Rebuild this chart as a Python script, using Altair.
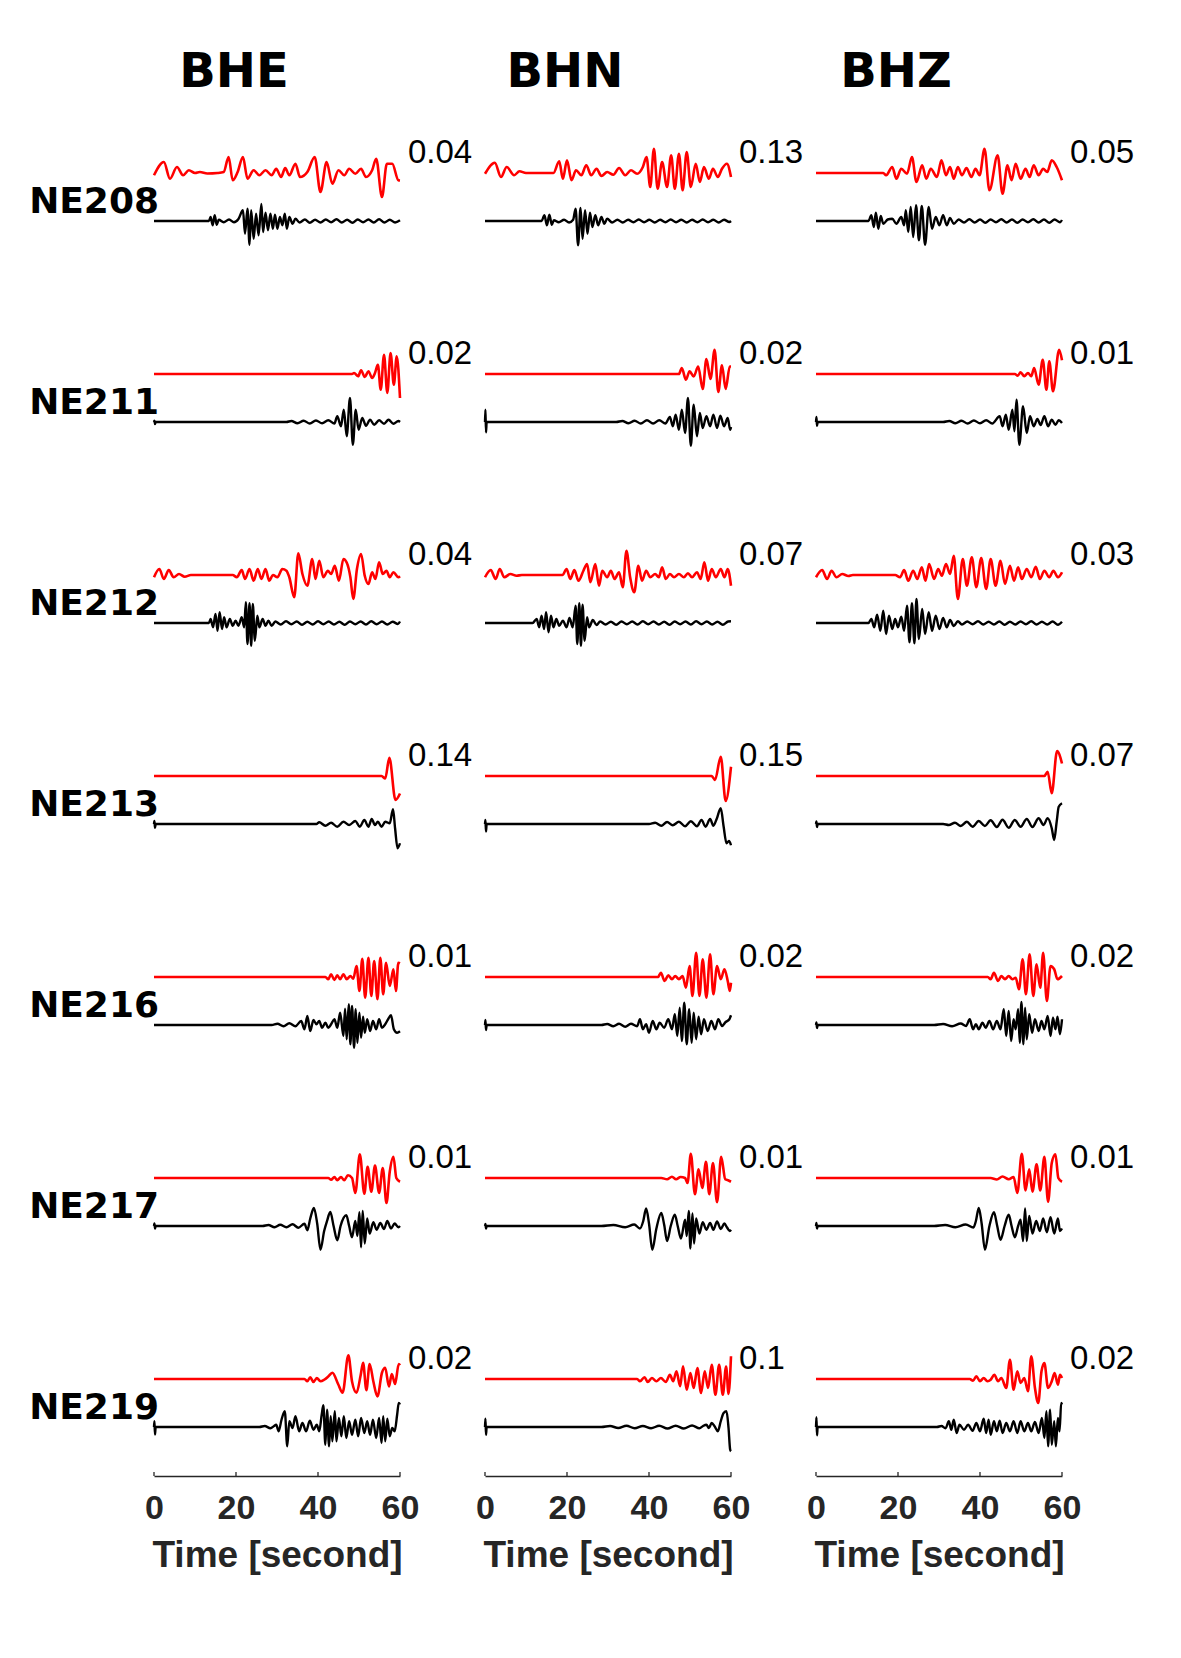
import altair as alt
import pandas as pd

# ---------------- data ----------------
STATIONS = ["NE208", "NE211", "NE212", "NE213", "NE216", "NE217", "NE219"]
COMPONENTS = ["BHE", "BHN", "BHZ"]
NUMBERS_BHE = [0.04, 0.02, 0.04, 0.14, 0.01, 0.01, 0.02]
NUMBERS_BHN = [0.13, 0.02, 0.07, 0.15, 0.02, 0.01, 0.1]
NUMBERS_BHZ = [0.05, 0.01, 0.03, 0.07, 0.02, 0.01, 0.02]
X_TICKS = [0, 20, 40, 60]

# (time [s], normalised amplitude) pairs; red = upper trace, black = lower trace
NE208_BHE_RED = [(0,-.09),(2.4,.44),(3.9,-.23),(5.6,.24),(7.1,-.09),(8.5,.11),(10,0),(11.2,.04),(13,-.02),(15.5,0),(17.0,.04),(18.2,.64),(19.2,-.29),(20.4,.04),(21.7,.64),(22.8,-.23),(24.3,.11),(25.7,-.09),(27.2,.11),(28.7,-.09),(29.8,.17),(31.0,-.16),(32.0,.2),(33.0,-.09),(34.5,.37),(35.6,-.16),(37.4,.04),(39.2,.64),(40.6,-.76),(42.1,.44),(43.5,-.43),(45.0,.11),(46.4,-.09),(47.6,.17),(49.1,-.03),(50.5,.17),(51.7,-.16),(53.2,.11),(54.2,.57),(55.6,-.96),(56.8,.37),(58.1,.37),(59.6,-.29),(60,-.3)]
NE208_BHE_BLACK = [(0,0),(13.4,0),(13.8,.16),(14.3,-.17),(14.8,.23),(15.3,-.15),(15.8,.05),(17,-.05),(18.3,.06),(19.5,-.05),(20.6,.08),(21.7,.43),(22.2,-.51),(22.8,.49),(23.3,-.95),(23.7,.43),(24.3,-.71),(24.9,.29),(25.5,-.57),(26.2,.68),(26.6,-.44),(27.2,.33),(27.8,-.37),(28.4,.29),(29.0,-.31),(29.5,.25),(30.1,-.31),(30.7,.16),(31.3,-.17),(31.9,.29),(32.4,-.31),(33.0,.16),(33.8,-.11),(34.5,.09),(35.5,-.06),(36.8,.06),(38.0,-.07),(39.3,.05),(40.6,-.06),(41.9,.06),(43.2,-.05),(44.5,.07),(45.8,-.06),(47.1,.05),(48.4,-.07),(49.7,.06),(51.0,-.05),(52.3,.06),(53.6,-.06),(54.9,.07),(56.2,-.06),(57.5,.05),(58.8,-.06),(60,.03)]
NE208_BHN_RED = [(0,-.03),(2.4,.41),(3.9,-.16),(5.3,.24),(7.1,-.09),(8.4,.07),(10,0),(16.7,0),(18.1,.47),(19.0,-.23),(20.0,.51),(21.1,-.29),(22.2,.11),(23.5,-.09),(24.7,.31),(25.9,-.09),(27.2,.17),(28.4,-.12),(29.8,.04),(31.3,-.07),(32.7,.2),(34.2,-.09),(35.6,.11),(37.1,-.03),(38.5,.24),(39.4,.64),(40.3,-.56),(41.2,.97),(42.1,-.63),(43.2,.44),(44.4,-.56),(45.4,.71),(46.3,-.63),(47.3,.77),(48.2,-.69),(49.2,.84),(50.2,-.56),(51.4,.37),(52.4,-.36),(53.4,.24),(54.6,-.23),(55.6,.17),(56.8,-.16),(57.8,.17),(59.0,.37),(60,-.16)]
NE208_BHN_BLACK = [(0,0),(13.8,0),(14.5,.23),(15.1,-.17),(15.7,.25),(16.3,-.15),(16.8,.03),(18,-.05),(19.3,.05),(20.5,-.06),(21.5,.05),(22.1,.49),(22.7,-.97),(23.3,.52),(23.8,-.71),(24.4,.43),(25.0,-.51),(25.6,.33),(26.2,-.24),(26.9,.23),(27.6,-.17),(28.4,.16),(29.1,-.11),(29.8,.09),(31.0,-.06),(32.3,.05),(33.6,-.06),(34.9,.05),(36.2,-.05),(37.5,.06),(38.8,-.05),(40.1,.05),(41.4,-.06),(42.7,.05),(44.0,-.05),(45.3,.06),(46.6,-.05),(47.9,.05),(49.2,-.06),(50.5,.05),(51.8,-.05),(53.1,.06),(54.4,-.05),(55.7,.05),(57.0,-.06),(58.3,.05),(59.6,-.04),(60,0)]
NE208_BHZ_RED = [(0,0),(16.4,0),(17.1,-.09),(18.6,.24),(19.6,-.23),(20.8,.17),(22.2,-.03),(23.4,.64),(24.5,-.36),(25.9,.31),(26.9,-.23),(28.0,.17),(29.5,-.16),(30.6,.51),(31.7,-.09),(32.7,.24),(33.6,-.23),(34.6,.24),(35.6,-.09),(36.7,.2),(37.9,-.16),(38.9,.17),(39.9,-.09),(41.1,.97),(42.3,-.69),(44.3,.71),(45.5,-.83),(46.7,.31),(47.7,-.29),(48.7,.37),(49.9,-.23),(51.1,.17),(52.1,-.16),(53.1,.31),(54.3,-.09),(55.4,.17),(56.4,.04),(57.5,.51),(58.7,.24),(60,-.29)]
NE208_BHZ_BLACK = [(0,0),(12.8,0),(13.5,.23),(14.1,-.24),(14.6,.33),(15.2,-.31),(15.8,.2),(16.4,-.11),(17.5,.06),(18.6,.09),(19.6,-.11),(20.8,.16),(21.5,-.17),(21.9,.43),(22.5,-.44),(23.1,.56),(23.7,-.64),(24.4,.63),(25.1,-.77),(25.8,.6),(26.6,-.95),(27.5,.56),(28.3,-.31),(29.2,.16),(30.1,-.17),(31.0,.23),(31.9,-.17),(32.7,.12),(33.6,-.11),(34.8,.06),(36.1,-.06),(37.4,.07),(38.7,-.06),(40.0,.06),(41.3,-.07),(42.6,.06),(43.9,-.05),(45.2,.07),(46.5,-.06),(47.8,.06),(49.1,-.07),(50.4,.06),(51.7,-.05),(53.0,.07),(54.3,-.06),(55.6,.06),(56.9,-.07),(58.2,.06),(59.5,-.05),(60,.04)]

NE211_BHE_RED = [(0,0),(48.3,0),(48.8,.04),(49.8,-.09),(50.5,.15),(51.4,-.12),(52.3,.11),(53.2,-.16),(53.9,.04),(54.6,.37),(55.3,-.63),(56.1,.77),(56.9,-.76),(57.7,.84),(58.5,-.43),(59.2,.71),(60,-.96)]
NE211_BHE_BLACK = [(0,0),(0.1,.05),(0.25,-.08),(0.4,0),(32.3,0),(33.5,.04),(35,-.05),(36.5,.05),(38,-.06),(39.5,.06),(41,-.05),(42.5,.07),(44,-.06),(44.7,.23),(45.6,-.17),(46.3,.49),(47.0,-.57),(47.8,.96),(48.5,-.91),(49.2,.49),(49.9,-.31),(50.8,.16),(51.7,-.15),(52.7,.09),(53.7,-.11),(54.9,.07),(56.1,-.07),(57.2,.09),(58.4,-.07),(59.6,.04),(60,0)]
NE211_BHN_RED = [(0,0),(46.6,0),(47.3,0),(48.0,.24),(49.0,-.23),(49.9,.11),(50.9,-.1),(52.0,.3),(53.1,-.6),(54.0,.6),(55.0,-.2),(56.0,.97),(56.9,-.72),(57.8,.35),(58.7,-.6),(59.7,.3),(60,.3)]
NE211_BHN_BLACK = [(0,0),(0.1,.49),(0.25,-.41),(0.4,0),(32,0),(33.5,.04),(35,-.05),(36.5,.05),(38,-.06),(39.5,.07),(41,-.06),(42.5,.07),(44,-.06),(45.1,.2),(45.8,-.17),(46.5,.29),(47.3,-.31),(48.0,.49),(48.8,-.44),(49.5,.96),(50.2,-.95),(50.9,.69),(51.7,-.57),(52.4,.36),(53.1,-.24),(54.0,.23),(54.9,-.17),(55.7,.29),(56.6,-.24),(57.4,.25),(58.3,-.17),(59.2,.16),(59.8,-.31),(60,-.2)]
NE211_BHZ_RED = [(0,0),(48.5,0),(49.2,-.07),(49.9,.07),(50.8,-.09),(51.7,.04),(52.5,-.09),(53.2,.24),(54.3,-.43),(55.3,.57),(56.2,-.63),(56.9,.51),(57.8,-.69),(59.3,.97),(60,.55)]
NE211_BHZ_BLACK = [(0,0),(0.1,.2),(0.25,-.15),(0.4,0),(31,0),(32.5,.04),(34,-.05),(35.5,.05),(37,-.06),(38.5,.06),(40,-.05),(41.5,.07),(43,-.06),(44.8,.23),(45.5,-.17),(46.3,.29),(47.0,-.31),(47.9,.49),(48.4,-.37),(48.9,.89),(49.6,-.91),(50.5,.63),(51.4,-.44),(52.2,.23),(53.1,-.17),(54.0,.12),(54.8,-.12),(55.7,.23),(56.6,-.17),(57.5,.09),(58.4,-.11),(59.2,.07),(60,-.04)]

NE212_BHE_RED = [(0,-.09),(1.3,.24),(2.4,-.16),(3.6,.2),(4.8,-.09),(6.1,.04),(7.5,-.07),(9.0,0),(19.2,0),(20.2,-.09),(21.4,.2),(22.2,-.16),(23.3,.24),(24.3,-.23),(25.3,.24),(26.2,-.16),(27.2,.24),(28.1,-.23),(29.0,0),(30.1,-.09),(31.3,.24),(32.3,.17),(33.0,-.09),(34.2,-.89),(35.2,.87),(36.2,.04),(37.4,-.43),(38.6,.64),(39.4,-.16),(40.3,.57),(41.3,-.09),(42.4,.17),(43.2,.04),(44.1,.37),(45.1,-.23),(46.2,.64),(47.0,.5),(47.9,-.09),(48.6,-.96),(49.5,.24),(50.5,.84),(51.4,-.03),(52.3,-.36),(53.2,.11),(54.0,-.16),(54.9,.51),(55.8,.04),(56.7,.17),(57.5,-.09),(58.4,.11),(59.6,-.09),(60,-.05)]
NE212_BHE_BLACK = [(0,0),(13.4,0),(13.8,.16),(14.4,-.17),(15.0,.36),(15.5,-.31),(16.0,.43),(16.6,-.24),(17.1,.23),(17.7,-.17),(18.5,.16),(19.2,-.11),(19.9,.09),(20.6,-.11),(21.4,.23),(22.0,-.17),(22.4,.83),(22.8,-.84),(23.3,.79),(23.7,-.91),(24.1,.76),(24.6,-.71),(25.2,.29),(25.7,-.17),(26.5,.16),(27.2,-.11),(27.9,.09),(28.7,-.11),(29.6,.06),(30.9,-.06),(32.2,.07),(33.5,-.05),(34.8,.06),(36.1,-.07),(37.4,.05),(38.7,-.06),(40.0,.07),(41.3,-.05),(42.6,.06),(43.9,-.06),(45.2,.05),(46.5,-.07),(47.8,.06),(49.1,-.05),(50.4,.06),(51.7,-.06),(53.0,.07),(54.3,-.05),(55.6,.06),(56.9,-.06),(58.2,.05),(59.5,-.04),(60,.06)]
NE212_BHN_RED = [(0,-.09),(1.4,.2),(2.6,-.16),(3.6,.24),(4.7,-.09),(6.2,.04),(7.7,-.03),(9,0),(18.9,0),(19.9,.24),(20.8,-.16),(21.8,.2),(22.8,-.23),(24.0,.17),(24.9,.44),(25.7,-.29),(26.9,.44),(27.8,-.43),(28.6,.17),(29.8,-.09),(30.7,.17),(31.6,-.16),(32.7,.11),(33.6,-.49),(34.5,.97),(35.4,-.09),(36.4,-.69),(37.4,.37),(38.3,-.23),(39.3,.17),(40.3,-.09),(41.5,.04),(42.4,-.09),(43.2,.31),(44.1,-.16),(45.1,.04),(46.1,-.09),(47.3,.04),(48.5,-.09),(49.5,.07),(50.5,-.09),(51.7,.11),(52.6,-.16),(53.5,.51),(54.4,-.23),(55.3,.24),(56.3,-.09),(57.5,.24),(58.4,-.09),(59.2,.24),(60,-.43)]
NE212_BHN_BLACK = [(0,0),(11.6,0),(12.6,.16),(13.2,-.17),(13.8,.29),(14.4,-.24),(14.9,.43),(15.5,-.37),(16.1,.29),(16.7,-.17),(17.4,.16),(18.1,-.11),(19.0,.09),(19.9,-.17),(20.6,.2),(21.4,-.17),(22.1,.69),(22.5,-.84),(23.0,.79),(23.4,-.91),(23.8,.73),(24.3,-.71),(24.9,.23),(25.4,-.17),(26.3,.12),(27.2,-.08),(28.1,.06),(29.4,-.06),(30.7,.05),(32.0,-.07),(33.3,.06),(34.6,-.05),(35.9,.06),(37.2,-.06),(38.5,.07),(39.8,-.05),(41.1,.06),(42.4,-.06),(43.7,.05),(45.0,-.07),(46.3,.06),(47.6,-.05),(48.9,.06),(50.2,-.06),(51.5,.07),(52.8,-.05),(54.1,.06),(55.4,-.06),(56.7,.05),(58.0,-.07),(59.3,.06),(60,.07)]
NE212_BHZ_RED = [(0,-.09),(1.5,.2),(2.7,-.16),(3.8,.17),(5.0,-.09),(6.4,.04),(7.9,-.04),(9,0),(19.3,0),(20.5,-.09),(21.5,.2),(22.5,-.23),(23.7,.17),(24.7,-.16),(25.8,.31),(26.7,-.23),(27.6,.44),(28.8,-.16),(29.8,.24),(30.7,-.03),(31.7,.44),(32.7,.04),(33.6,.77),(34.6,-.96),(35.8,.64),(36.8,-.43),(38.0,.71),(39.1,-.49),(40.3,.68),(41.5,-.56),(42.6,.64),(43.8,-.43),(45.0,.57),(46.1,-.36),(47.3,.37),(48.3,-.23),(49.3,.31),(50.2,-.16),(51.4,.24),(52.5,-.09),(53.6,.33),(54.6,-.16),(55.7,.17),(56.9,-.09),(57.9,.17),(59.0,-.09),(60,.11)]
NE212_BHZ_BLACK = [(0,0),(12.8,0),(13.5,.16),(14.2,-.17),(14.9,.33),(15.7,-.31),(16.4,.49),(17.1,-.44),(17.8,.29),(18.6,-.24),(19.3,.16),(20.0,-.17),(20.8,.25),(21.5,-.31),(22.2,.69),(22.8,-.77),(23.4,.79),(24.0,-.81),(24.5,.96),(25.1,-.64),(25.9,.56),(26.6,-.44),(27.5,.43),(28.3,-.31),(29.2,.29),(30.1,-.24),(31.0,.2),(31.9,-.17),(32.7,.12),(33.6,-.12),(34.6,.07),(35.6,-.06),(36.9,.06),(38.2,-.05),(39.5,.07),(40.8,-.06),(42.1,.05),(43.4,-.06),(44.7,.06),(46.0,-.07),(47.3,.05),(48.6,-.06),(49.9,.06),(51.2,-.05),(52.5,.07),(53.8,-.06),(55.1,.05),(56.4,-.06),(57.7,.06),(59.0,-.07),(60,.05)]

NE213_BHE_RED = [(0,0),(55.5,0),(56.4,-.1),(57.4,.73),(58.9,-.96),(60,-.7)]
NE213_BHE_BLACK = [(0,0),(0.1,.12),(0.25,-.15),(0.4,0),(39.6,0),(40.3,.07),(41.8,-.07),(43.2,.05),(44.7,-.11),(46.2,.09),(47.6,-.04),(49.1,.12),(50.2,-.11),(51.3,.16),(52.3,-.11),(53.1,.2),(53.9,-.04),(54.6,.09),(55.5,-.11),(56.4,.09),(57.5,.03),(58.3,.59),(58.8,-.17),(59.4,-.97),(60,-.77)]
NE213_BHN_RED = [(0,0),(55.3,0),(56.1,-.16),(57.5,.77),(58.7,-1.0),(60,.37)]
NE213_BHN_BLACK = [(0,0),(0.1,.16),(0.25,-.3),(0.4,0),(40,0),(41.5,.05),(43.0,-.07),(44.4,.08),(45.8,-.05),(47.3,.09),(48.8,-.09),(50.2,.11),(51.7,-.09),(52.8,.16),(53.8,-.11),(54.9,.2),(55.7,-.07),(56.5,.2),(57.5,.63),(58.2,-.1),(58.9,-.77),(59.5,-.68),(60,-.85)]
NE213_BHZ_RED = [(0,0),(55.7,0),(56.5,.17),(57.5,-.69),(58.8,1.0),(60,.5)]
NE213_BHZ_BLACK = [(0,0),(0.1,.1),(0.25,-.12),(0.4,0),(31,0),(32.4,-.04),(33.9,.05),(35.3,-.08),(36.8,.09),(38.2,-.11),(39.7,.12),(41.2,-.08),(42.6,.15),(44.1,-.12),(45.5,.17),(47.0,-.15),(48.5,.16),(49.9,-.11),(51.4,.2),(52.8,-.12),(54.3,.23),(55.5,-.04),(56.5,.23),(57.5,-.17),(58.1,-.64),(58.7,.09),(59.2,.69),(60,.83)]

NE216_BHE_RED = [(0,0),(41.8,0),(42.5,-.09),(43.2,.11),(44.0,-.12),(44.7,.07),(45.4,-.09),(46.2,.11),(47.0,-.09),(47.9,.04),(48.6,-.07),(49.4,.44),(50.1,-.56),(50.8,.73),(51.5,-.83),(52.3,.77),(53.0,-.76),(53.7,.64),(54.5,-.89),(55.2,.77),(55.9,-.69),(56.6,.57),(57.5,-.36),(58.4,.31),(59.0,-.56),(59.6,.57),(60,.55)]
NE216_BHE_BLACK = [(0,0),(28.7,0),(30.1,.05),(31.6,-.05),(33.0,.07),(34.5,-.05),(35.9,.16),(36.7,-.17),(37.4,.36),(38.1,-.24),(38.9,.2),(39.6,.03),(40.3,.16),(41.0,-.11),(41.8,.09),(42.5,-.11),(43.2,.03),(44.0,.23),(44.7,-.11),(45.4,.49),(46.2,-.44),(46.6,.65),(47.0,-.57),(47.5,.83),(47.9,-.77),(48.3,.76),(48.8,-.91),(49.2,.63),(49.6,-.71),(50.1,.49),(50.5,-.51),(51.0,.33),(51.4,-.31),(52.0,.23),(52.7,-.24),(53.4,.16),(54.2,-.17),(54.9,.23),(55.6,-.11),(56.4,.03),(57.1,.23),(57.8,.39),(58.5,-.17),(59.3,-.31),(60,-.25)]
NE216_BHN_RED = [(0,0),(42.2,0),(42.9,.17),(43.8,-.16),(44.7,.07),(45.6,-.09),(46.4,.04),(47.3,-.09),(48.2,.04),(49.0,-.43),(49.9,.44),(50.6,-.76),(51.5,.97),(52.3,-.76),(53.1,.71),(54.0,-.83),(54.9,.91),(55.7,-.69),(56.6,.44),(57.5,-.09),(58.4,.31),(59.2,-.16),(59.7,-.56),(60,-.23)]
NE216_BHN_BLACK = [(0,0),(0.1,.2),(0.25,-.2),(0.4,0),(28.4,0),(29.8,.04),(31.3,-.05),(32.7,.05),(34.2,-.07),(35.6,.05),(37.1,-.05),(37.8,.23),(38.5,-.17),(39.3,.03),(40.0,-.31),(40.9,.16),(41.8,-.17),(42.6,.09),(43.7,-.11),(44.7,.23),(45.6,-.17),(46.3,.43),(46.9,-.44),(47.5,.69),(48.0,-.64),(48.6,.89),(49.2,-.77),(49.8,.63),(50.4,-.71),(50.9,.49),(51.5,-.57),(52.1,.33),(52.7,-.37),(53.4,.23),(54.3,-.24),(55.2,.16),(56.1,-.17),(56.9,.23),(57.8,-.04),(58.7,.12),(59.6,.23),(60,.39)]
NE216_BHZ_RED = [(0,0),(41.9,0),(42.6,-.09),(43.4,.17),(44.4,-.16),(45.2,.04),(46.1,-.09),(47.0,.04),(47.9,-.09),(48.7,-.03),(49.5,-.49),(50.4,.71),(51.2,-.69),(52.1,.91),(53.0,-.76),(53.8,.51),(54.7,-.43),(55.4,.97),(56.3,-.96),(57.2,.44),(58.1,.31),(58.9,-.09),(60,.04)]
NE216_BHZ_BLACK = [(0,0),(0.1,.1),(0.25,-.12),(0.4,0),(28.8,0),(31.0,.04),(33.2,-.05),(35.3,.06),(36.6,-.04),(37.5,.23),(38.3,-.17),(39.0,.03),(39.7,-.17),(40.6,.09),(41.4,-.11),(42.3,.16),(43.2,-.17),(44.1,.16),(45.0,-.17),(45.8,.63),(46.4,-.44),(47.0,.56),(47.6,-.64),(48.2,.23),(48.7,-.17),(49.3,.63),(49.7,-.71),(50.1,.92),(50.6,-.77),(51.0,.69),(51.4,-.57),(52.0,.43),(52.7,-.31),(53.4,.23),(54.3,-.24),(55.0,.16),(55.7,-.17),(56.5,.36),(57.2,-.44),(57.8,.29),(58.4,-.17),(58.9,.33),(59.5,-.37),(60,.23)]

NE217_BHE_RED = [(0,0),(42.5,0),(43.2,-.07),(44.0,.04),(44.7,-.09),(45.6,.04),(46.4,-.09),(47.3,.11),(48.3,0),(49.1,-.6),(50.2,.95),(51.3,-.63),(52.1,.45),(53.0,-.55),(53.9,.5),(54.9,-.6),(55.8,.4),(56.7,-1.0),(57.5,.25),(58.4,.85),(59.1,0),(60,-.15)]
NE217_BHE_BLACK = [(0,0),(0.1,.1),(0.25,-.1),(0.4,0),(26.5,0),(27.9,.04),(29.4,-.05),(30.8,.05),(32.3,-.05),(33.8,.07),(35.2,-.07),(36.7,.09),(37.4,-.17),(38.1,.29),(39.0,.72),(39.8,.1),(40.6,-.95),(41.5,-.2),(42.2,.2),(43.0,.56),(43.8,0),(44.7,-.57),(45.5,0),(46.9,.43),(47.6,0),(48.3,-.45),(49.1,.2),(49.6,-.4),(50.1,.55),(50.5,-.85),(50.9,.6),(51.4,-.7),(52.0,.3),(52.6,-.3),(53.5,.15),(54.3,-.15),(55.2,.12),(56.1,-.12),(56.9,.2),(57.8,-.1),(58.7,.1),(59.6,-.05),(60,0)]
NE217_BHN_RED = [(0,0),(43.0,0),(44.4,-.05),(45.6,.05),(46.6,-.05),(47.7,.04),(48.8,0),(49.4,-.2),(50.2,.97),(51.2,-.65),(52.1,.35),(53.0,-.4),(53.9,.65),(54.7,-.65),(55.6,.6),(56.6,-.97),(57.6,.85),(58.6,-.05),(59.4,-.1),(60,-.15)]
NE217_BHN_BLACK = [(0,0),(0.1,.08),(0.25,-.1),(0.4,0),(28.4,0),(31.3,.04),(34.2,-.05),(36.4,.06),(37.8,-.1),(38.6,.2),(39.3,.7),(40.0,.1),(40.8,-.95),(41.8,-.1),(43.0,.52),(43.7,.05),(44.4,-.6),(45.3,0),(46.3,.45),(47.0,0),(47.8,-.5),(48.8,.25),(49.2,-.4),(49.7,.6),(50.1,-.9),(50.6,.5),(51.0,-.7),(51.5,.3),(52.3,-.3),(53.1,.15),(54.0,-.15),(54.9,.12),(55.7,-.15),(56.6,.18),(57.5,-.12),(58.4,.1),(59.0,-.05),(59.7,-.2),(60,-.15)]
NE217_BHZ_RED = [(0,0),(42.6,0),(44.1,-.06),(45.5,.06),(47.0,-.05),(48.2,.04),(49.1,-.6),(50.2,.97),(51.1,-.5),(52.0,.35),(52.8,-.55),(53.8,.55),(54.7,-.5),(55.7,.85),(56.6,-.95),(57.5,.6),(58.4,.95),(59.1,0),(60,-.15)]
NE217_BHZ_BLACK = [(0,0),(0.1,.12),(0.25,-.1),(0.4,0),(28.8,0),(31.5,.04),(34.0,-.05),(36.5,.06),(38.4,-.06),(39.0,.2),(39.7,.72),(40.4,.1),(41.2,-.95),(42.3,0),(43.4,.55),(44.2,0),(45.0,-.55),(46.0,0),(47.0,.45),(47.7,0),(48.5,-.45),(49.3,0),(49.9,.25),(50.5,-.6),(51.0,.7),(51.4,-.6),(52.0,.4),(52.8,-.3),(53.7,.2),(54.6,-.2),(55.4,.3),(56.3,-.25),(57.2,.35),(58.1,-.3),(59.0,.3),(59.5,-.2),(60,-.1)]

NE219_BHE_RED = [(0,0),(36.7,0),(37.4,-.09),(38.1,.07),(38.9,-.12),(39.7,.04),(40.6,-.09),(41.5,-.03),(42.5,.1),(43.5,.25),(44.9,-.2),(46.0,-.55),(47.4,.95),(48.3,-.1),(49.4,-.55),(50.4,.15),(51.0,.65),(51.8,-.45),(52.6,.6),(53.5,-.1),(54.5,-.7),(55.6,.25),(56.4,.45),(57.3,-.3),(58.0,.2),(58.8,-.2),(59.7,.6),(60,.55)]
NE219_BHE_BLACK = [(0,0),(0.1,.23),(0.25,-.3),(0.4,0),(25.7,0),(27.0,.04),(28.4,-.05),(29.3,.04),(29.8,.09),(30.4,-.17),(31.1,.29),(31.9,.63),(32.5,-.77),(33.0,.23),(33.8,-.04),(34.5,.43),(35.4,-.17),(36.2,.16),(37.1,-.17),(38.0,.25),(38.9,-.11),(39.7,.09),(40.3,-.17),(40.9,.49),(41.3,.87),(41.8,-.71),(42.2,.69),(42.7,-.77),(43.1,.43),(43.5,-.57),(44.1,.63),(44.5,-.57),(45.1,.36),(45.7,-.37),(46.3,.43),(46.9,-.44),(47.6,.23),(48.3,-.31),(49.1,.29),(49.8,-.37),(50.5,.36),(51.3,-.24),(52.0,.23),(52.7,-.31),(53.4,.29),(54.2,-.44),(54.9,.36),(55.5,-.64),(55.9,.43),(56.4,-.57),(56.9,.33),(57.5,-.37),(58.1,-.04),(58.7,-.17),(59.3,.49),(59.7,.96),(60,.9)]
NE219_BHN_RED = [(0,0),(37.1,0),(37.8,-.09),(38.9,.07),(39.7,-.12),(40.7,.04),(41.8,-.09),(42.9,.04),(44.1,-.12),(45.1,.17),(45.9,-.09),(46.7,.31),(47.6,-.29),(48.3,.51),(49.2,-.43),(50.1,.24),(50.9,-.36),(51.8,.44),(52.7,-.56),(53.6,.31),(54.4,-.36),(55.3,.57),(56.2,-.63),(57.1,.57),(58.0,-.63),(58.8,.5),(59.4,-.6),(60,.91)]
NE219_BHN_BLACK = [(0,0),(0.1,.33),(0.25,-.31),(0.4,0),(28.4,0),(30.5,.04),(32.5,-.04),(34.5,.05),(36.5,-.05),(38.5,.04),(40.5,-.05),(42.5,.05),(44.5,-.06),(46.5,.05),(48.5,-.06),(50.5,.06),(52.3,-.05),(53.1,.03),(54.0,.09),(54.6,-.04),(55.3,.16),(56.0,.03),(56.8,-.17),(57.5,.23),(58.2,.56),(58.9,.63),(59.4,-.04),(59.8,-.91),(60,-.97)]
NE219_BHZ_RED = [(0,0),(37.5,0),(38.3,-.07),(39.1,.11),(40.0,-.09),(40.9,.04),(41.8,-.09),(42.6,-.03),(43.5,.17),(44.4,-.09),(45.2,.04),(46.4,-.36),(47.3,.77),(48.2,-.43),(49.1,.31),(49.9,-.16),(50.8,.04),(51.7,-.49),(52.5,.91),(53.4,-.36),(54.2,-.96),(55.0,.31),(55.7,.64),(56.6,-.36),(57.5,-.09),(58.2,.24),(59.0,-.23),(59.5,.17),(60,.04)]
NE219_BHZ_BLACK = [(0,0),(0.1,.39),(0.25,-.33),(0.4,0),(29.5,0),(30.6,.04),(31.6,-.05),(32.4,.23),(33.0,-.11),(33.6,.29),(34.3,-.24),(35.0,.09),(36.1,-.11),(37.1,.09),(38.2,-.15),(39.1,.16),(40.0,-.17),(40.9,.33),(41.5,-.24),(42.1,.29),(42.6,-.31),(43.4,.23),(44.1,-.17),(44.8,.25),(45.5,-.24),(46.4,.16),(47.3,-.17),(48.2,.23),(49.1,-.24),(49.9,.23),(50.8,-.17),(51.7,.16),(52.5,-.17),(53.4,.2),(54.3,-.24),(55.1,.36),(55.7,-.44),(56.2,.63),(56.6,-.77),(57.1,.69),(57.5,-.71),(58.1,.23),(58.5,-.77),(59.0,.36),(59.4,-.17),(59.8,.96),(60,.9)]

TRACES = {
    ("NE208", "BHE"): (NE208_BHE_RED, NE208_BHE_BLACK),
    ("NE208", "BHN"): (NE208_BHN_RED, NE208_BHN_BLACK),
    ("NE208", "BHZ"): (NE208_BHZ_RED, NE208_BHZ_BLACK),
    ("NE211", "BHE"): (NE211_BHE_RED, NE211_BHE_BLACK),
    ("NE211", "BHN"): (NE211_BHN_RED, NE211_BHN_BLACK),
    ("NE211", "BHZ"): (NE211_BHZ_RED, NE211_BHZ_BLACK),
    ("NE212", "BHE"): (NE212_BHE_RED, NE212_BHE_BLACK),
    ("NE212", "BHN"): (NE212_BHN_RED, NE212_BHN_BLACK),
    ("NE212", "BHZ"): (NE212_BHZ_RED, NE212_BHZ_BLACK),
    ("NE213", "BHE"): (NE213_BHE_RED, NE213_BHE_BLACK),
    ("NE213", "BHN"): (NE213_BHN_RED, NE213_BHN_BLACK),
    ("NE213", "BHZ"): (NE213_BHZ_RED, NE213_BHZ_BLACK),
    ("NE216", "BHE"): (NE216_BHE_RED, NE216_BHE_BLACK),
    ("NE216", "BHN"): (NE216_BHN_RED, NE216_BHN_BLACK),
    ("NE216", "BHZ"): (NE216_BHZ_RED, NE216_BHZ_BLACK),
    ("NE217", "BHE"): (NE217_BHE_RED, NE217_BHE_BLACK),
    ("NE217", "BHN"): (NE217_BHN_RED, NE217_BHN_BLACK),
    ("NE217", "BHZ"): (NE217_BHZ_RED, NE217_BHZ_BLACK),
    ("NE219", "BHE"): (NE219_BHE_RED, NE219_BHE_BLACK),
    ("NE219", "BHN"): (NE219_BHN_RED, NE219_BHN_BLACK),
    ("NE219", "BHZ"): (NE219_BHZ_RED, NE219_BHZ_BLACK),
}
NUMBERS = {"BHE": NUMBERS_BHE, "BHN": NUMBERS_BHN, "BHZ": NUMBERS_BHZ}

# ---------------- layout (row units: one station row = 201 px) ----------------
ROW_PX = 201.0
BLACK_OFFSET = 48 / ROW_PX      # black trace sits below the red one
AMP_SCALE = 25 / ROW_PX         # normalised amplitude 1 -> 25 px
Y_TOP = -52 / ROW_PX
Y_BOTTOM = 6 + 97 / ROW_PX
PANEL_W = 246
PANEL_H = int(round((Y_BOTTOM - Y_TOP) * ROW_PX))
TICK_LEN = 4 / ROW_PX

rows = []
for si, st in enumerate(STATIONS):
    for comp in COMPONENTS:
        red, black = TRACES[(st, comp)]
        for kind, pts, off in (("red", red, 0.0), ("black", black, BLACK_OFFSET)):
            for k, (t, a) in enumerate(pts):
                rows.append({"station": st, "comp": comp, "kind": kind, "k": k,
                             "t": t, "y": si + off - a * AMP_SCALE})
df = pd.DataFrame(rows)

x_enc = alt.X("t:Q", scale=alt.Scale(domain=[0, 60], nice=False, zero=False),
              axis=alt.Axis(values=X_TICKS, title="Time [second]", ticks=False, tickSize=0,
                            grid=False, labelFontSize=34, labelFont="Liberation Sans",
                            labelFontWeight="bold", labelColor="#262626", labelPadding=15,
                            labelFlush=False, labelOverlap=False,
                            titleFontSize=37, titleFont="Liberation Sans", titleFontWeight="bold",
                            titleColor="#262626", titlePadding=12,
                            domainColor="#262626", domainWidth=1.3))
y_scale = alt.Scale(domain=[Y_TOP, Y_BOTTOM], reverse=True, nice=False, zero=False)


def panel(comp, with_stations):
    d = df[df["comp"] == comp]
    red = alt.Chart(d[d["kind"] == "red"]).mark_line(
        color="#ff0000", strokeWidth=2.6, interpolate="monotone").encode(
        x=x_enc, y=alt.Y("y:Q", scale=y_scale, axis=None),
        detail="station:N", order="k:Q")
    black = alt.Chart(d[d["kind"] == "black"]).mark_line(
        color="#000000", strokeWidth=2.4, interpolate="monotone").encode(
        x=x_enc, y=alt.Y("y:Q", scale=y_scale, axis=None),
        detail="station:N", order="k:Q")
    num_df = pd.DataFrame({"t": [60] * len(STATIONS),
                           "y": list(range(len(STATIONS))),
                           "label": [str(v) for v in NUMBERS[comp]]})
    nums = alt.Chart(num_df).mark_text(
        align="left", baseline="alphabetic", dx=8, dy=-10, fontSize=33,
        font="Liberation Sans", color="#000000").encode(
        x=x_enc, y=alt.Y("y:Q", scale=y_scale, axis=None), text="label:N")
    tick_df = pd.DataFrame({"t": X_TICKS, "y": [Y_BOTTOM] * len(X_TICKS),
                            "y2": [Y_BOTTOM - TICK_LEN] * len(X_TICKS)})
    ticks = alt.Chart(tick_df).mark_rule(color="#262626", strokeWidth=1.3).encode(
        x=x_enc, y=alt.Y("y:Q", scale=y_scale, axis=None), y2="y2:Q")
    layers = [red, black, nums, ticks]
    if with_stations:
        st_df = pd.DataFrame({"t": [0] * len(STATIONS),
                              "y": list(range(len(STATIONS))),
                              "label": STATIONS})
        st = alt.Chart(st_df).mark_text(
            align="right", baseline="alphabetic", dx=5, dy=40, fontSize=36,
            font="DejaVu Sans", fontWeight="bold", color="#000000").encode(
            x=x_enc, y=alt.Y("y:Q", scale=y_scale, axis=None), text="label:N")
        layers.append(st)
    return alt.layer(*layers).properties(
        width=PANEL_W, height=PANEL_H,
        title=alt.TitleParams(text=comp, fontSize=48, font="DejaVu Sans", fontWeight="bold",
                              color="#000000", anchor="middle", dx=-43, offset=-14,
                              baseline="alphabetic"))


chart = alt.hconcat(
    panel("BHE", True), panel("BHN", False), panel("BHZ", False),
    spacing=85
).properties(
    bounds="flush",
    padding={"left": 29, "top": 49, "right": 10, "bottom": 10}
).configure_view(stroke=None)

chart.save("out.html", embed_options={"renderer": "svg", "actions": False})
